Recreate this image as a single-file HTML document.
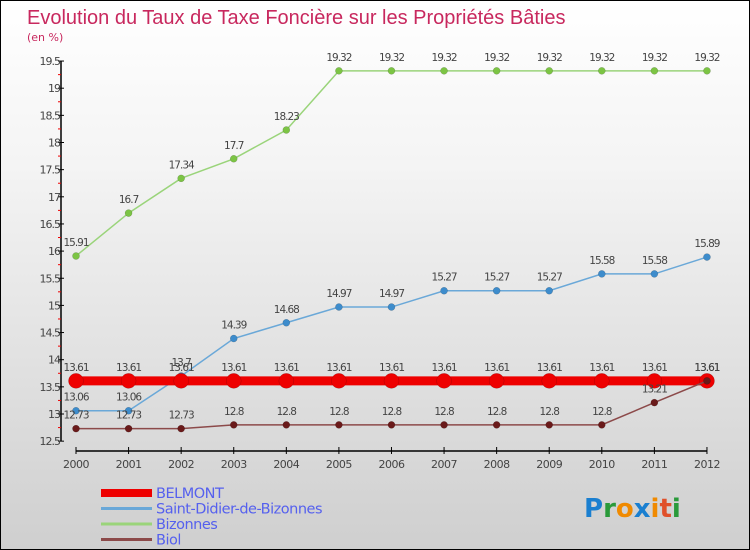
<!DOCTYPE html>
<html><head><meta charset="utf-8"><style>
body{margin:0}
#c{width:750px;height:550px;position:relative;overflow:hidden;box-sizing:border-box;border:1px solid #000;background:linear-gradient(#fff,#f4f4f4 30%,#cfcfcf);font-family:"DejaVu Sans","Liberation Sans",sans-serif}
svg text{font-family:"DejaVu Sans","Liberation Sans",sans-serif}
</style></head><body>
<div id="c">
<svg id="s" width="750" height="550">
<text x="26" y="23" font-size="20" fill="#c8285e" style="font-family:'Liberation Sans',sans-serif">Evolution du Taux de Taxe Foncière sur les Propriétés Bâties</text>
<text x="26" y="40" font-size="11" fill="#c8285e">(en %)</text>
<g id="ax"></g><g id="ser"></g><g id="lg"></g>
<text x="583" y="516" font-size="26" font-weight="bold"><tspan fill="#1a7fd0">P</tspan><tspan fill="#2a9a3a">r</tspan><tspan fill="#f08a00">o</tspan><tspan fill="#1a7fd0">x</tspan><tspan fill="#f08a00">i</tspan><tspan fill="#e0502a">t</tspan><tspan fill="#2a9a3a">i</tspan></text>
</svg></div>
<script>
const years=[2000,2001,2002,2003,2004,2005,2006,2007,2008,2009,2010,2011,2012];
const belmont=[13.61,13.61,13.61,13.61,13.61,13.61,13.61,13.61,13.61,13.61,13.61,13.61,13.61];
const stdidier=[13.06,13.06,13.7,14.39,14.68,14.97,14.97,15.27,15.27,15.27,15.58,15.58,15.89];
const bizonnes=[15.91,16.7,17.34,17.7,18.23,19.32,19.32,19.32,19.32,19.32,19.32,19.32,19.32];
const biol=[12.73,12.73,12.73,12.8,12.8,12.8,12.8,12.8,12.8,12.8,12.8,13.21,13.61];
const yTicks=[12.5,13,13.5,14,14.5,15,15.5,16,16.5,17,17.5,18,18.5,19,19.5];
const NS="http://www.w3.org/2000/svg";
const X=i=>75+i*52.58, Y=v=>413-(v-13)*54.3;
function mk(t,a,p){const e=document.createElementNS(NS,t);for(const k in a)e.setAttribute(k,a[k]);p.appendChild(e);return e;}
const ax=document.getElementById('ax');
let e=mk('line',{x1:60,y1:Y(19.5),x2:60,y2:Y(12.5),stroke:'#000','stroke-width':1.5},ax);


e=mk('line',{x1:75,y1:450,x2:X(12),y2:450,stroke:'#000','stroke-width':1.5},ax);


yTicks.forEach((v,i)=>{
 mk('line',{x1:57,x2:63,y1:Y(v),y2:Y(v),stroke:'#000'},ax);
 if(i<yTicks.length-1)mk('line',{x1:57,x2:60,y1:Y(v+0.25),y2:Y(v+0.25),stroke:'#e00'},ax);
 const t=mk('text',{x:59,y:Y(v)+4,'font-size':11,fill:'#444','text-anchor':'end','letter-spacing':'-1'},ax);
 t.textContent=String(v);
 
 
});
years.forEach((y,i)=>{
 mk('line',{x1:X(i),x2:X(i),y1:446,y2:453,stroke:'#000'},ax);
 const t=mk('text',{x:X(i),y:467,'font-size':11,fill:'#444','text-anchor':'middle','letter-spacing':'-0.5'},ax);
 t.textContent=y;
 
 
});
const ser=document.getElementById('ser');
function series(vals,color,lw,r,name,dot){
 const g=mk('g',{},ser);
 
 
 const l=mk('polyline',{points:vals.map((v,i)=>X(i)+','+Y(v)).join(' '),fill:'none',stroke:color,'stroke-width':lw},g);
 
 
 vals.forEach((v,i)=>{
  const c=mk('circle',{cx:X(i),cy:Y(v),r:r,fill:dot,stroke:'rgba(0,0,0,0.25)','stroke-width':0.5},g);
  
  
  const t=mk('text',{x:X(i),y:Y(v)-10,'font-size':10.5,fill:'#444','text-anchor':'middle','letter-spacing':'-1'},g);
  t.textContent=String(v);
  
  
 });
}
series(bizonnes,'#9ad47a',1.5,3.5,'bizonnes','#7cc444');
series(stdidier,'#6aa8d8',1.5,3.5,'saint-didier','#3d8ccc');
series(belmont,'#ee0000',9,7.5,'belmont','#ee0000');
series(biol,'#8c4a4a',1.5,3.5,'biol','#6a1a1a');
const lg=document.getElementById('lg');
[['BELMONT','#ee0000',8],['Saint-Didier-de-Bizonnes','#6aa8d8',3],['Bizonnes','#9ad47a',3],['Biol','#8c4a4a',3]].forEach((d,i)=>{
 const y=492+i*15.5;
 const l=mk('line',{x1:100,x2:151,y1:y,y2:y,stroke:d[1],'stroke-width':d[2]},lg);
 
 
 const t=mk('text',{x:155,y:y+5,'font-size':14.5,fill:'#5560ee','letter-spacing':'-0.5'},lg);
 t.textContent=d[0];
 
 
});
</script>
</body></html>
